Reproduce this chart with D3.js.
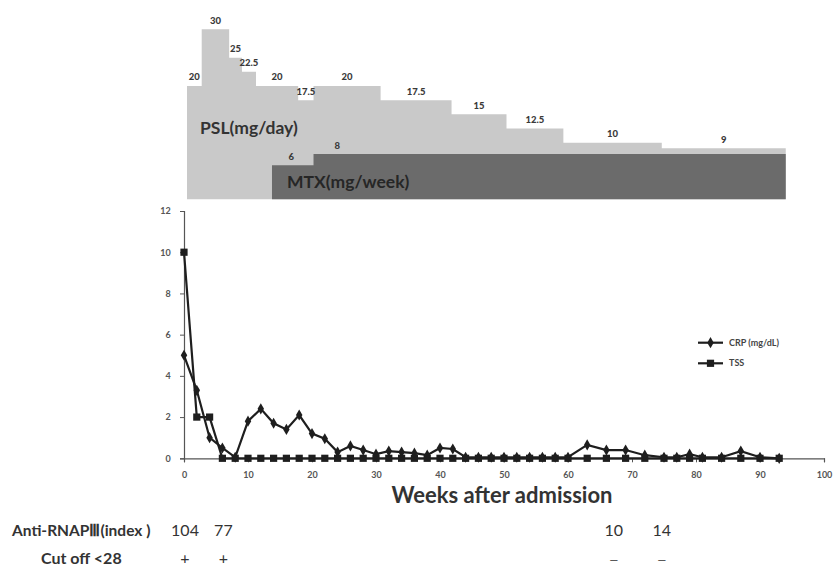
<!DOCTYPE html>
<html><head><meta charset="utf-8">
<script src="https://cdn.jsdelivr.net/npm/d3@7"></script>
<style>body{margin:0;background:#fff;} svg{display:block;}</style>
</head><body>
<svg id="chart" width="835" height="566"></svg>
<script>
// ---- data ----
const weeks = [0,2,4,6,8,10,12,14,16,18,20,22,24,26,28,30,32,34,36,38,40,42,44,46,48,50,52,54,56,58,60,63,66,69,72,75,77,79,81,84,87,90,93];
const crp = [5.0,3.3,1.0,0.5,0.05,1.8,2.4,1.7,1.4,2.1,1.2,0.95,0.3,0.6,0.4,0.2,0.35,0.3,0.25,0.15,0.5,0.45,0.05,0.05,0.05,0.05,0.05,0.05,0.05,0.05,0.05,0.65,0.4,0.4,0.15,0.05,0.05,0.2,0.05,0.05,0.35,0.05,0.0];
const tss = [10,2,2,0,0,0,0,0,0,0,0,0,0,0,0,0,0,0,0,0,0,0,0,0,0,0,0,0,0,0,0,0,0,0,0,0,0,0,0,0,0,0,0];
const seriesNames = ["CRP (mg/dL)", "TSS"];
const yTicks = [0,2,4,6,8,10,12];
const xTicks = [0,10,20,30,40,50,60,70,80,90,100];

const pslStart = [0,2.3,6.6,8.6,10.8,17.4,19.8,30.3,41.4,50,58.9,74.3];
const pslDose = [20,30,25,22.5,20,17.5,20,17.5,15,12.5,10,9];
const pslLabels = ["20","30","25","22.5","20","17.5","20","17.5","15","12.5","10","9"];
const pslEnd = 93.7;
const mtxStart = [13.3,19.8];
const mtxDose = [6,8];
const mtxLabels = ["6","8"];
const mtxLabelWeek = [16.3,23.5];
const mtxEnd = 93.7;

const rnapWeeks = [0,6,67,74.5];
const rnapValues = ["104","77","10","14"];
const cutoffMarks = ["+","+","\u2014","\u2014"];

// ---- drawing ----
const svg = d3.select("#chart");
const FONT = "Lato, 'Open Sans', sans-serif";

const x = d3.scaleLinear().domain([0,100]).range([184,824]);
const y = d3.scaleLinear().domain([0,12]).range([458.3,211]);
const xTop = d3.scaleLinear().domain([0,100]).range([187,826]);
const yTop = d3.scaleLinear().domain([0,30]).range([199.3,29.3]);

// top: PSL step area
const pslPts = pslStart.map((s,i)=>({w:s,v:pslDose[i]})).concat([{w:pslEnd,v:pslDose[pslDose.length-1]}]);
const area = d3.area().curve(d3.curveStepAfter).x(d=>xTop(d.w)).y0(yTop(0)).y1(d=>yTop(d.v));
svg.append("path").datum(pslPts).attr("d",area).attr("fill","#c9c9c9");
const mtxPts = mtxStart.map((s,i)=>({w:s,v:mtxDose[i]})).concat([{w:mtxEnd,v:mtxDose[mtxDose.length-1]}]);
svg.append("path").datum(mtxPts).attr("d",area).attr("fill","#6b6b6b");

// step labels
pslStart.forEach((s,i)=>{
  const e = i<pslStart.length-1 ? pslStart[i+1] : pslEnd;
  svg.append("text").attr("x",xTop((s+e)/2)).attr("y",yTop(pslDose[i])-5.5)
    .attr("text-anchor","middle").attr("font-family",FONT).attr("font-size",9.5).attr("font-weight","900")
    .attr("fill","#3a3a3a").text(pslLabels[i]);
});
mtxLabels.forEach((l,i)=>{
  svg.append("text").attr("x",xTop(mtxLabelWeek[i])).attr("y",yTop(mtxDose[i])-5)
    .attr("text-anchor","middle").attr("font-family",FONT).attr("font-size",9.5).attr("font-weight","900")
    .attr("fill","#3a3a3a").text(l);
});
svg.append("text").attr("x",200).attr("y",134).attr("font-family",FONT).attr("font-size",17.5).attr("font-weight","bold")
  .attr("fill","#333").text("PSL(mg/day)");
svg.append("text").attr("x",287).attr("y",188).attr("font-family",FONT).attr("font-size",17.5).attr("font-weight","bold")
  .attr("fill","#262626").text("MTX(mg/week)");

// axes
const gx = svg.append("g").attr("transform",`translate(0,${y(0)})`)
  .call(d3.axisBottom(x).tickValues(xTicks).tickSize(4).tickFormat(d3.format("d")));
const gy = svg.append("g").attr("transform",`translate(${x(0)},0)`)
  .call(d3.axisLeft(y).tickValues(yTicks).tickSize(4).tickFormat(d3.format("d")));
[gx,gy].forEach(g=>{
  g.select(".domain").attr("stroke","#555").attr("stroke-width",1.2);
  g.selectAll(".tick line").attr("stroke","#555");
  g.selectAll(".tick text").attr("font-family",FONT).attr("font-size",9).attr("font-weight","bold").attr("fill","#555");
});
gx.selectAll(".tick text").attr("dy","1.4em");
gy.selectAll(".tick text").attr("dx","-0.7em");

// series
const ptsC = weeks.map((w,i)=>({w,v:crp[i]}));
const ptsT = weeks.map((w,i)=>({w,v:tss[i]}));
const line = d3.line().x(d=>x(d.w)).y(d=>y(d.v));
svg.append("path").datum(ptsT).attr("d",line).attr("fill","none").attr("stroke","#1e1e1e").attr("stroke-width",2.2);
svg.append("path").datum(ptsC).attr("d",line).attr("fill","none").attr("stroke","#1e1e1e").attr("stroke-width",2.2);
const sq = d3.symbol().type(d3.symbolSquare).size(52);
const dm = d3.symbol().type(d3.symbolDiamond).size(36);
svg.append("g").selectAll("path").data(ptsT).join("path").attr("d",sq)
  .attr("transform",d=>`translate(${x(d.w)},${y(d.v)})`).attr("fill","#1e1e1e");
svg.append("g").selectAll("path").data(ptsC).join("path").attr("d",dm)
  .attr("transform",d=>`translate(${x(d.w)},${y(d.v)})`).attr("fill","#1e1e1e");

// legend
const legY = [342.7,363.3];
seriesNames.forEach((n,i)=>{
  svg.append("line").attr("x1",698).attr("x2",723).attr("y1",legY[i]).attr("y2",legY[i]).attr("stroke","#1e1e1e").attr("stroke-width",2.2);
  svg.append("path").attr("d", i===0?dm():sq()).attr("transform",`translate(710.5,${legY[i]})`).attr("fill","#1e1e1e");
  svg.append("text").attr("x",729).attr("y",legY[i]+3).attr("font-family",FONT).attr("font-size",9).attr("font-weight","bold")
    .attr("fill","#444").text(n);
});

// x title
svg.append("text").attr("x",502).attr("y",503).attr("text-anchor","middle").attr("font-family",FONT).attr("font-size",22)
  .attr("font-weight","bold").attr("fill","#333").text("Weeks after admission");

// bottom rows
svg.append("text").attr("x",12).attr("y",536).attr("font-family",FONT).attr("font-size",15.5).attr("font-weight","bold")
  .attr("fill","#333").text("Anti-RNAP\u2162(index )");
svg.append("text").attr("x",41).attr("y",564).attr("font-family",FONT).attr("font-size",16).attr("font-weight","bold")
  .attr("fill","#333").text("Cut off  <28");
rnapWeeks.forEach((w,i)=>{
  svg.append("text").attr("x",x(w)+1).attr("y",536).attr("text-anchor","middle").attr("font-family",FONT).attr("font-size",16)
    .attr("fill","#333").text(rnapValues[i]);
  svg.append("text").attr("x",x(w)+1).attr("y",564).attr("text-anchor","middle").attr("font-family",FONT)
    .attr("font-size",i<2?16:11).attr("fill","#333").text(cutoffMarks[i]);
});
</script>
</body></html>
